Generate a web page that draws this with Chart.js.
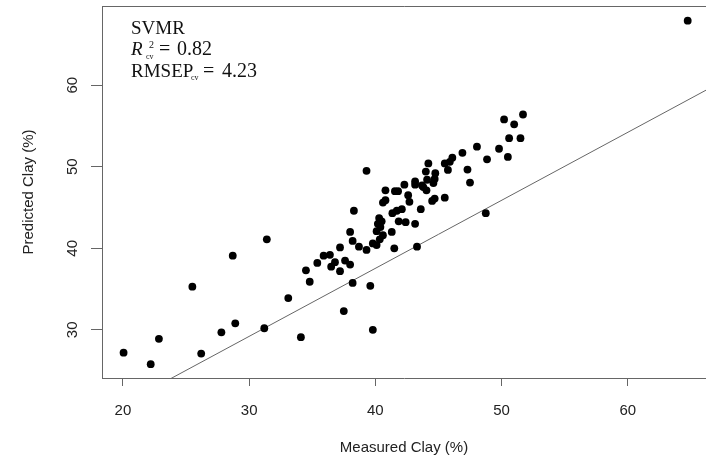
<!DOCTYPE html>
<html><head><meta charset="utf-8">
<script src="https://cdn.jsdelivr.net/npm/chart.js@4.4.0/dist/chart.umd.min.js"></script>
<style>html,body{margin:0;padding:0;background:#fff;}#wrap{width:706px;height:457px;position:relative;}</style>
</head><body><div id="wrap"><canvas id="c" width="706" height="457"></canvas></div>
<script>
// Measured vs predicted clay (%)
const measuredClay = [
  20.05, 22.2, 22.85, 25.5, 26.2, 27.8, 28.9, 28.7, 31.2, 31.4,
  33.1, 34.1, 34.5, 34.8, 35.4, 35.9, 36.4, 36.8, 36.5, 37.2,
  37.2, 37.6, 38.0, 37.5, 39.8, 38.2, 39.6, 38.2, 38.7, 39.3,
  39.8, 40.1, 41.5, 43.3, 39.3, 38.3, 38.0, 40.35, 40.1, 40.6,
  41.3, 40.3, 40.5, 40.2, 40.4, 41.35, 41.7, 42.1, 41.85, 42.4,
  43.15, 43.6, 40.6, 40.8, 40.8, 41.55, 41.8, 42.6, 42.7, 42.3,
  43.15, 43.15, 43.7, 44.0, 44.2, 50.2, 51.7, 51.0, 50.6, 51.5,
  49.8, 50.5, 48.05, 48.85, 46.9, 47.3, 47.5, 48.75, 46.1, 45.9,
  45.5, 45.75, 44.75, 44.7, 44.1, 44.6, 43.8, 44.05, 44.5, 44.7,
  45.5, 64.75
];
const predictedClay = [
  27.2, 25.8, 28.9, 35.3, 27.1, 29.7, 30.8, 39.1, 30.2, 41.1,
  33.9, 29.1, 37.3, 35.9, 38.2, 39.1, 39.2, 38.3, 37.75, 40.1,
  37.2, 38.5, 38.0, 32.3, 30.0, 35.75, 35.4, 40.9, 40.2, 39.8,
  40.6, 40.4, 40.0, 40.2, 49.5, 44.6, 42.0, 41.1, 42.1, 41.6,
  42.0, 43.7, 43.3, 43.0, 42.6, 44.3, 44.6, 44.8, 43.3, 43.2,
  43.0, 44.8, 45.6, 45.9, 47.1, 47.0, 47.0, 46.5, 45.7, 47.8,
  48.2, 47.8, 47.7, 49.4, 50.4, 55.8, 56.4, 55.2, 53.5, 53.5,
  52.2, 51.2, 52.45, 50.9, 51.7, 49.65, 48.05, 44.3, 51.1, 50.6,
  50.4, 49.6, 49.2, 48.5, 48.4, 48.0, 47.5, 47.1, 45.8, 46.1,
  46.2, 67.9
];
// Fitted line endpoints
const fitMeasured = [18, 67];
const fitPredicted = [19.2, 60.05];
// Axis ticks
const xTicks = [20, 30, 40, 50, 60];
const yTicks = [30, 40, 50, 60];
const xTitle = 'Measured Clay (%)';
const yTitle = 'Predicted Clay (%)';
const modelName = 'SVMR';
const r2Value = '0.82';
const rmsepValue = '4.23';

const sans = '"Liberation Sans", Arial, sans-serif';
const serif = '"Liberation Serif", "Times New Roman", serif';
const axisColor = '#666';

const framePlugin = {
  id: 'frame',
  afterDraw(chart) {
    const {ctx, chartArea: {left, top, right, bottom}} = chart;
    ctx.save();
    ctx.strokeStyle = axisColor;
    ctx.lineWidth = 1;
    ctx.beginPath();
    ctx.moveTo(left + 0.5, bottom);
    ctx.lineTo(left + 0.5, top + 0.5);
    ctx.lineTo(right, top + 0.5);
    ctx.stroke();
    // annotation
    ctx.fillStyle = '#111';
    ctx.textBaseline = 'alphabetic';
    ctx.textAlign = 'left';
    ctx.font = '19px ' + serif;
    ctx.fillText(modelName, 131, 34);
    ctx.font = 'italic 19px ' + serif;
    ctx.fillText('R', 131, 55);
    ctx.font = '10px ' + serif;
    ctx.fillText('2', 149, 48);
    ctx.font = '8px ' + serif;
    ctx.fillText('cv', 146, 59);
    ctx.font = '20px ' + serif;
    ctx.fillText('=', 159, 55);
    ctx.fillText(r2Value, 177, 55);
    ctx.font = '19px ' + serif;
    ctx.fillText('RMSEP', 131, 77);
    ctx.font = '8px ' + serif;
    ctx.fillText('cv', 191, 80);
    ctx.font = '20px ' + serif;
    ctx.fillText('=', 203, 77);
    ctx.fillText(rmsepValue, 222, 77);
    ctx.restore();
  }
};

new Chart(document.getElementById('c'), {
  type: 'scatter',
  data: {
    datasets: [
      {
        label: 'samples',
        data: measuredClay.map((x, i) => ({x: x, y: predictedClay[i]})),
        backgroundColor: '#000',
        borderColor: '#000',
        borderWidth: 0,
        pointRadius: 3.9,
        pointHoverRadius: 3.9,
        order: 0
      },
      {
        type: 'line',
        label: 'fit',
        data: fitMeasured.map((x, i) => ({x: x, y: fitPredicted[i]})),
        borderColor: '#666',
        borderWidth: 1,
        pointRadius: 0,
        fill: false,
        tension: 0,
        order: 1
      }
    ]
  },
  options: {
    responsive: false,
    animation: false,
    devicePixelRatio: 1,
    layout: {autoPadding: false, padding: {top: 6, left: 0, right: 0, bottom: 0}},
    plugins: {legend: {display: false}, tooltip: {enabled: false}},
    events: [],
    scales: {
      x: {
        type: 'linear',
        min: 18.34,
        max: 66.2,
        afterBuildTicks: s => { s.ticks = xTicks.map(v => ({value: v})); },
        afterFit: s => { s.height = 79; s.paddingLeft = 0; s.paddingRight = 0; },
        grid: {display: true, drawOnChartArea: false, drawTicks: true, tickLength: 8, tickColor: axisColor, color: axisColor},
        border: {display: true, color: axisColor, width: 1},
        ticks: {font: {family: sans, size: 15}, color: '#222', padding: 16, maxRotation: 0, minRotation: 0, autoSkip: false},
        title: {display: true, text: xTitle, font: {family: sans, size: 15}, color: '#222', padding: {top: 0, bottom: 0}}
      },
      y: {
        type: 'linear',
        min: 24.1,
        max: 69.7,
        afterBuildTicks: s => { s.ticks = yTicks.map(v => ({value: v})); },
        afterFit: s => { s.width = 102; s.paddingTop = 0; s.paddingBottom = 0; },
        grid: {display: true, drawOnChartArea: false, drawTicks: true, tickLength: 11, tickColor: axisColor, color: axisColor},
        border: {display: true, color: axisColor, width: 1},
        ticks: {font: {family: sans, size: 15}, color: '#222', padding: 10, minRotation: 90, maxRotation: 90, crossAlign: 'center', autoSkip: false},
        title: {display: true, text: yTitle, font: {family: sans, size: 15}, color: '#222', padding: {top: 20, bottom: 0}}
      }
    }
  },
  plugins: [framePlugin]
});
</script>
</body></html>
